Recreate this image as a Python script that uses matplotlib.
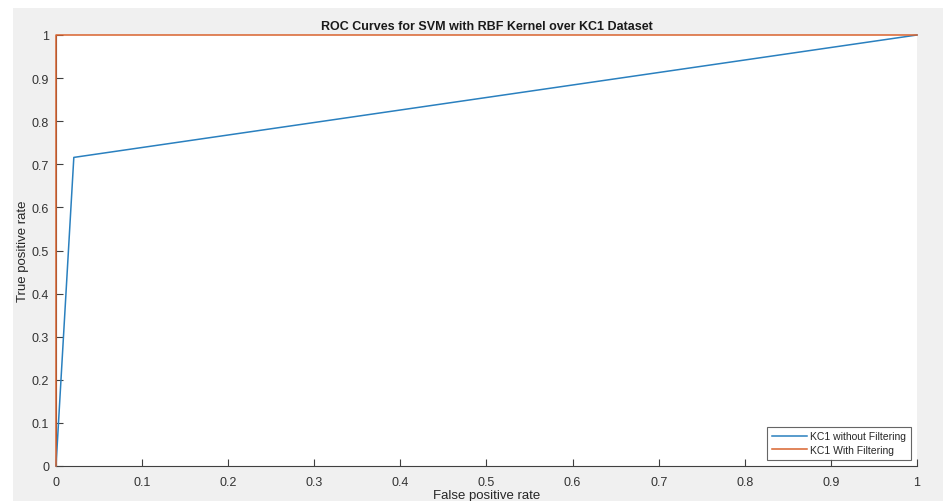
import matplotlib
matplotlib.use("Agg")
import matplotlib.pyplot as plt
from matplotlib.patches import Rectangle

# ROC points
fpr_plain = [0.0, 0.0207, 1.0]
tpr_plain = [0.0, 0.716, 1.0]
fpr_filt = [0.0, 0.0, 1.0]
tpr_filt = [0.0, 1.0, 1.0]
ticks = [0, 0.1, 0.2, 0.3, 0.4, 0.5, 0.6, 0.7, 0.8, 0.9, 1]
tick_labels = ["0", "0.1", "0.2", "0.3", "0.4", "0.5", "0.6", "0.7", "0.8", "0.9", "1"]

plt.rcParams['font.family'] = ['Liberation Sans', 'DejaVu Sans']

W, H = 943, 502
fig = plt.figure(figsize=(W / 100, H / 100), dpi=100, facecolor='white')
# matlab-ish grey figure panel, with a thin white margin at left and top
fig.patches.append(Rectangle((13 / W, 0), 1 - 13 / W, 1 - 9 / H,
                             transform=fig.transFigure, facecolor='#f0f0f0',
                             edgecolor='none', zorder=-10))

ax = fig.add_axes([56 / W, 1 - 467 / H, (917 - 56) / W, (467 - 36) / H])
ax.set_facecolor('white')

ax.plot(fpr_plain, tpr_plain, color='#2a80bf', lw=1.1, clip_on=False,
        zorder=3, label='KC1 without Filtering')
ax.plot(fpr_filt, tpr_filt, color='#d9632e', lw=1.1, clip_on=False,
        zorder=3, label='KC1 With Filtering')

ax.set_xlim(0, 1)
ax.set_ylim(0, 1)
ax.set_xticks(ticks)
ax.set_xticklabels(tick_labels)
ax.set_yticks(ticks)
ax.set_yticklabels(tick_labels)

for s in ['top', 'right']:
    ax.spines[s].set_visible(False)
for s in ['left', 'bottom']:
    ax.spines[s].set_color('#404040')
    ax.spines[s].set_linewidth(0.8)
ax.tick_params(direction='in', length=5, width=0.8, colors='#404040',
               labelsize=9, labelcolor='#333333')
ax.tick_params(axis='x', pad=7)
ax.tick_params(axis='y', pad=5)

ax.set_title('ROC Curves for SVM with RBF Kernel over KC1 Dataset',
             fontsize=9, fontweight='bold', pad=4, color='#1a1a1a')
ax.set_xlabel('False positive rate', fontsize=9.5, labelpad=1, color='#262626')
ax.set_ylabel('True positive rate', fontsize=9.5, labelpad=2, color='#262626')

leg = ax.legend(loc='lower right', fontsize=7.5, frameon=True, fancybox=False,
                handlelength=3.4, borderaxespad=0.6, borderpad=0.45,
                labelspacing=0.35, handletextpad=0.3)
leg.get_frame().set_edgecolor('#404040')
leg.get_frame().set_linewidth(0.8)
for t in leg.get_texts():
    t.set_color('#262626')

fig.savefig('out.png', dpi=100, facecolor=fig.get_facecolor())
